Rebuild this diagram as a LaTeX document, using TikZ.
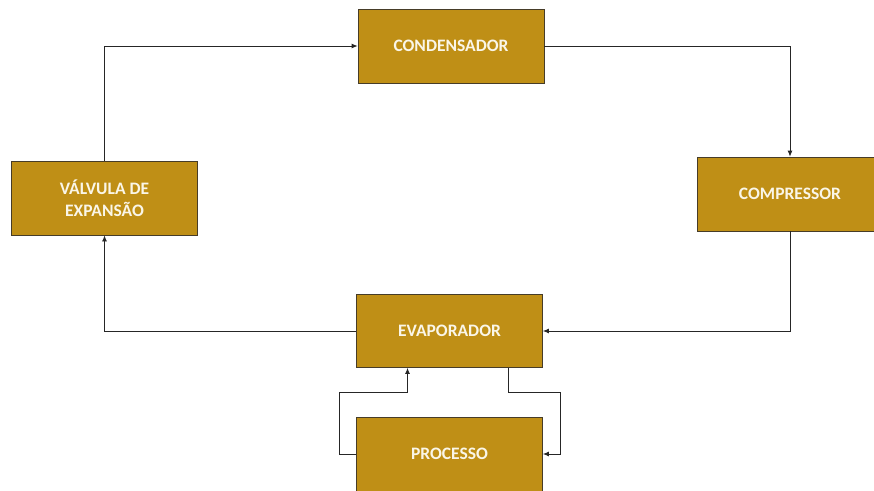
\documentclass[tikz,border=0pt]{standalone}
\usepackage{fontspec}
\setmainfont{Carlito}
\usetikzlibrary{arrows.meta}
\definecolor{gold}{RGB}{191,143,22}
\definecolor{boxline}{RGB}{70,60,40}
\definecolor{txt}{RGB}{250,246,232}
\begin{document}
\begin{tikzpicture}[x=1pt,y=-1pt,
  blk/.style={draw=boxline,line width=0.8pt,fill=gold,minimum width=186pt,minimum height=74pt,
    inner sep=0pt,font=\fontsize{17.5}{22}\selectfont\bfseries,text=txt,align=center},
  conn/.style={draw=black!85,line width=0.8pt},
  arr/.style={conn,-{Latex[length=6pt,width=5pt]}}]
\useasboundingbox (0,0) rectangle (874,490);
\begin{scope}
\clip (0,0) rectangle (874,490);
\node[blk] (cond) at (451,46) {CONDENSADOR};
\node[blk] (valv) at (104.5,198) {VÁLVULA DE\\EXPANSÃO};
\node[blk] (comp) at (790,194) {COMPRESSOR};
\node[blk,minimum height=73pt] (evap) at (449.5,331) {EVAPORADOR};
\node[blk] (proc) at (449.5,454) {PROCESSO};
\end{scope}
\draw[arr] (valv.north) |- (cond.west);
\draw[arr] (cond.east) -| (comp.north);
\draw[arr] (comp.south) |- (evap.east);
\draw[arr] (evap.west) -| (valv.south);
\coordinate (p1) at (339,392);
\coordinate (p2) at (560,392);
\draw[arr] (proc.west) -| (p1) -| ([xshift=-42pt]evap.south);
\draw[arr] ([xshift=59pt]evap.south) |- (p2) |- (proc.east);
\end{tikzpicture}
\end{document}
